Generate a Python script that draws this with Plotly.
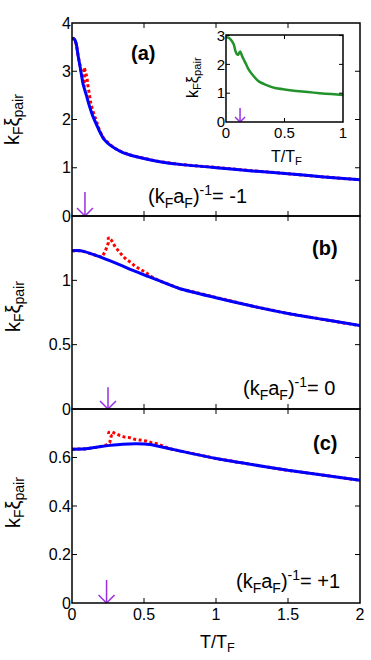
import plotly.graph_objects as go

# ---------------- data ----------------
# Panel (a): (kF aF)^-1 = -1
a_blue_T = [0, 0.01, 0.02, 0.03, 0.043, 0.056, 0.067, 0.078, 0.09, 0.10, 0.12, 0.146, 0.18, 0.194, 0.22, 0.26, 0.30, 0.35, 0.42, 0.5, 0.6, 0.75, 1.0, 1.25, 1.5, 1.75, 2.0]
a_blue_v = [3.67, 3.68, 3.65, 3.56, 3.31, 3.10, 2.90, 2.72, 2.60, 2.50, 2.29, 2.06, 1.83, 1.74, 1.60, 1.48, 1.40, 1.32, 1.25, 1.19, 1.13, 1.07, 1.00, 0.935, 0.875, 0.81, 0.75]
a_red_T = [0, 0.01, 0.02, 0.03, 0.043, 0.056, 0.067, 0.078, 0.085, 0.085, 0.097, 0.104, 0.109, 0.116, 0.12, 0.132, 0.146, 0.16, 0.18, 0.194, 0.22, 0.26, 0.30, 0.35, 0.42, 0.5, 0.6, 0.75, 1.0, 1.25, 1.5, 1.75, 2.0]
a_red_v = [3.67, 3.68, 3.65, 3.56, 3.31, 3.10, 2.90, 2.72, 2.68, 3.08, 2.97, 2.87, 2.73, 2.59, 2.45, 2.31, 2.17, 2.05, 1.84, 1.75, 1.61, 1.49, 1.40, 1.32, 1.25, 1.19, 1.13, 1.07, 1.00, 0.935, 0.875, 0.81, 0.75]

# Panel (b): (kF aF)^-1 = 0
b_blue_T = [0, 0.03, 0.06, 0.08, 0.125, 0.2, 0.3, 0.4, 0.5, 0.6, 0.75, 1.0, 1.25, 1.5, 1.75, 2.0]
b_blue_v = [1.23, 1.232, 1.23, 1.225, 1.21, 1.18, 1.135, 1.088, 1.042, 1.0, 0.935, 0.865, 0.80, 0.742, 0.695, 0.648]
b_red_T = [0, 0.03, 0.06, 0.08, 0.125, 0.206, 0.229, 0.245, 0.252, 0.252, 0.275, 0.30, 0.32, 0.352, 0.38, 0.408, 0.4375, 0.472, 0.507, 0.55, 0.6, 0.75, 1.0, 1.25, 1.5, 1.75, 2.0]
b_red_v = [1.23, 1.232, 1.23, 1.225, 1.21, 1.18, 1.22, 1.26, 1.29, 1.333, 1.31, 1.26, 1.23, 1.19, 1.16, 1.14, 1.11, 1.09, 1.065, 1.03, 1.0, 0.935, 0.865, 0.80, 0.742, 0.695, 0.648]

# Panel (c): (kF aF)^-1 = +1
c_blue_T = [0, 0.1, 0.2, 0.264, 0.35, 0.45, 0.54, 0.68, 0.75, 1.0, 1.25, 1.5, 1.75, 2.0]
c_blue_v = [0.634, 0.636, 0.645, 0.650, 0.655, 0.657, 0.654, 0.636, 0.627, 0.596, 0.571, 0.547, 0.527, 0.506]
c_red_T = [0, 0.1, 0.2, 0.24, 0.262, 0.273, 0.25, 0.28, 0.331, 0.366, 0.40, 0.435, 0.47, 0.514, 0.553, 0.588, 0.62, 0.68, 0.75, 1.0, 1.25, 1.5, 1.75, 2.0]
c_red_v = [0.634, 0.636, 0.645, 0.652, 0.662, 0.69, 0.703, 0.705, 0.691, 0.684, 0.682, 0.675, 0.672, 0.668, 0.661, 0.657, 0.650, 0.636, 0.627, 0.596, 0.571, 0.547, 0.527, 0.506]

# Inset: (kF aF)^-1 = -1, T/TF in [0, 1]
ins_T = [0, 0.02, 0.037, 0.066, 0.08, 0.094, 0.105, 0.114, 0.122, 0.137, 0.165, 0.194, 0.237, 0.28, 0.336, 0.42, 0.5, 0.6, 0.7, 0.8, 0.9, 1.0]
ins_v = [2.94, 2.93, 2.88, 2.70, 2.47, 2.35, 2.34, 2.41, 2.45, 2.29, 2.06, 1.82, 1.59, 1.41, 1.30, 1.18, 1.13, 1.08, 1.04, 1.00, 0.97, 0.94]

# Arrows marking Tc (position, top value)
arrow_T = {"a": 0.09, "b": 0.25, "c": 0.24, "ins": 0.12}
arrow_top = {"a": 0.5, "b": 0.17, "c": 0.095, "ins": 0.49}

# axis ranges / ticks
x_range = [0, 2]
x_ticks = [0, 0.5, 1, 1.5, 2]
x_ticktext = ["0", "0.5", "1", "1.5", "2"]
ya_range, ya_ticks = [0, 4], [0, 1, 2, 3, 4]
yb_range, yb_ticks = [0, 1.5], [0, 0.5, 1]
yc_range, yc_ticks = [0, 0.8], [0, 0.2, 0.4, 0.6]
ins_x_range, ins_x_ticks = [0, 1], [0, 0.5, 1]
ins_y_range, ins_y_ticks = [0, 3.02], [0, 1, 2, 3]

# ---------------- figure ----------------
W, H = 371, 660
ML, MR, MT, MB = 72, 11, 23, 57
PW, PH = W - ML - MR, H - MT - MB

BLUE = "#0000ff"
RED = "#ff0000"
GREEN = "#22922a"
VIOLET = "#9a2ee0"
FONT = "Liberation Sans, Arial, sans-serif"

dom_a = [(603 - 216) / PH, 1.0]
dom_b = [(603 - 409) / PH, (603 - 216) / PH]
dom_c = [0.0, (603 - 409) / PH]
ins_dx = [(226 - ML) / PW, (343 - ML) / PW]
ins_dy = [(603 - 122) / PH, (603 - 35) / PH]
panel_h = 193
ins_w, ins_h = 117, 87

fig = go.Figure()

def add_pair(T_b, v_b, T_r, v_r, xa, ya):
    fig.add_trace(go.Scatter(x=T_r, y=v_r, mode="lines", xaxis=xa, yaxis=ya,
                             line=dict(color=RED, width=3, dash="3px,2.5px"),
                             showlegend=False, hoverinfo="skip"))
    fig.add_trace(go.Scatter(x=T_b, y=v_b, mode="lines", xaxis=xa, yaxis=ya,
                             line=dict(color=BLUE, width=3, shape="spline", smoothing=0.6),
                             showlegend=False, hoverinfo="skip"))

add_pair(a_blue_T, a_blue_v, a_red_T, a_red_v, "x", "y")
add_pair(b_blue_T, b_blue_v, b_red_T, b_red_v, "x2", "y2")
add_pair(c_blue_T, c_blue_v, c_red_T, c_red_v, "x3", "y3")
fig.add_trace(go.Scatter(x=ins_T, y=ins_v, mode="lines", xaxis="x4", yaxis="y4",
                         line=dict(color=GREEN, width=2.5, shape="spline", smoothing=0.6),
                         showlegend=False, hoverinfo="skip"))

def add_arrow(key, xa, ya, xr, yr, xpx, ypx, head):
    t, top = arrow_T[key], arrow_top[key]
    hx = head * (xr[1] - xr[0]) / xpx
    hy = head * (yr[1] - yr[0]) / ypx
    fig.add_trace(go.Scatter(x=[t, t, None, t - hx, t, t + hx],
                             y=[top, 0, None, hy, 0, hy],
                             mode="lines", xaxis=xa, yaxis=ya,
                             line=dict(color=VIOLET, width=1.5),
                             showlegend=False, hoverinfo="skip"))

add_arrow("a", "x", "y", x_range, ya_range, PW, panel_h, 8)
add_arrow("b", "x2", "y2", x_range, yb_range, PW, panel_h, 8)
add_arrow("c", "x3", "y3", x_range, yc_range, PW, panel_h, 8)
add_arrow("ins", "x4", "y4", ins_x_range, ins_y_range, ins_w, ins_h, 5)

def add_frame(xa, ya, xr, yr, xt, yt, tl):
    # frame box as a layout shape on the subplot's domain
    fig.add_shape(type="rect", xref=xa + " domain", yref=ya + " domain",
                  x0=0, x1=1, y0=0, y1=1, layer="above",
                  line=dict(color="black", width=1.5))
    tick_line = dict(color="black", width=1)
    for t in xt:
        if xr[0] < t < xr[1]:
            fig.add_shape(type="line", xref=xa, yref=ya + " domain", layer="above",
                          x0=t, x1=t, ysizemode="pixel", yanchor=0, y0=0, y1=tl,
                          line=tick_line)
            fig.add_shape(type="line", xref=xa, yref=ya + " domain", layer="above",
                          x0=t, x1=t, ysizemode="pixel", yanchor=1, y0=0, y1=-tl,
                          line=tick_line)
    for t in yt:
        if yr[0] < t < yr[1]:
            fig.add_shape(type="line", xref=xa + " domain", yref=ya, layer="above",
                          y0=t, y1=t, xsizemode="pixel", xanchor=0, x0=0, x1=tl,
                          line=tick_line)
            fig.add_shape(type="line", xref=xa + " domain", yref=ya, layer="above",
                          y0=t, y1=t, xsizemode="pixel", xanchor=1, x0=0, x1=-tl,
                          line=tick_line)

add_frame("x", "y", x_range, ya_range, x_ticks, ya_ticks, 5)
add_frame("x2", "y2", x_range, yb_range, x_ticks, yb_ticks, 5)
add_frame("x3", "y3", x_range, yc_range, x_ticks, yc_ticks, 5)
add_frame("x4", "y4", ins_x_range, ins_y_range, ins_x_ticks, ins_y_ticks, 4)

axis_common = dict(showline=False, ticks="", showgrid=False, zeroline=False,
                   tickfont=dict(family=FONT, size=16, color="black"))
ins_font = dict(family=FONT, size=15, color="black")

fig.update_layout(
    width=W, height=H,
    margin=dict(l=ML, r=MR, t=MT, b=MB, autoexpand=False),
    paper_bgcolor="white", plot_bgcolor="white",
    font=dict(family=FONT, color="black"),
    xaxis=dict(axis_common, domain=[0, 1], range=x_range, tickvals=x_ticks, anchor="y", showticklabels=False),
    xaxis2=dict(axis_common, domain=[0, 1], range=x_range, tickvals=x_ticks, anchor="y2", showticklabels=False),
    xaxis3=dict(axis_common, domain=[0, 1], range=x_range, tickvals=x_ticks, ticktext=x_ticktext, anchor="y3"),
    yaxis=dict(axis_common, domain=dom_a, range=ya_range, tickvals=ya_ticks, anchor="x"),
    yaxis2=dict(axis_common, domain=dom_b, range=yb_range, tickvals=yb_ticks, anchor="x2"),
    yaxis3=dict(axis_common, domain=dom_c, range=yc_range, tickvals=yc_ticks, anchor="x3"),
    xaxis4=dict(axis_common, domain=ins_dx, range=ins_x_range, tickvals=ins_x_ticks, anchor="y4",
                tickfont=ins_font),
    yaxis4=dict(axis_common, domain=ins_dy, range=ins_y_range, tickvals=ins_y_ticks, anchor="x4",
                tickfont=ins_font),
)

def px_x(p):
    return (p - ML) / PW

def px_y(p):
    return (603 - p) / PH

ylab = "k<sub>F</sub>ξ<sub>pair</sub>"
annots = [
    dict(text="<b>(a)</b>", x=px_x(143), y=px_y(53), size=20),
    dict(text="<b>(b)</b>", x=px_x(325), y=px_y(248), size=20),
    dict(text="<b>(c)</b>", x=px_x(325), y=px_y(443), size=20),
    dict(text="(k<sub>F</sub>a<sub>F</sub>)<sup>-1</sup>= -1", x=px_x(197), y=px_y(196), size=20),
    dict(text="(k<sub>F</sub>a<sub>F</sub>)<sup>-1</sup>= 0", x=px_x(289), y=px_y(388), size=20),
    dict(text="(k<sub>F</sub>a<sub>F</sub>)<sup>-1</sup>= +1", x=px_x(288), y=px_y(581), size=20),
    dict(text="T/T<sub>F</sub>", x=px_x(217), y=px_y(643), size=18),
    dict(text="T/T<sub>F</sub>", x=px_x(286), y=px_y(157), size=16),
    dict(text=ylab, x=px_x(14), y=px_y(120), size=20, angle=-90),
    dict(text=ylab, x=px_x(14), y=px_y(307), size=20, angle=-90),
    dict(text=ylab, x=px_x(14), y=px_y(503), size=20, angle=-90),
    dict(text=ylab, x=px_x(193), y=px_y(78), size=16, angle=-90),
]
for a in annots:
    fig.add_annotation(text=a["text"], x=a["x"], y=a["y"], xref="paper", yref="paper",
                       xanchor="center", yanchor="middle", showarrow=False,
                       textangle=a.get("angle", 0),
                       font=dict(family=FONT, size=a["size"], color="black"))

fig.write_html("out.html", config={"displayModeBar": False},
               post_script="document.body.style.margin='0px';document.body.style.padding='0px';")
